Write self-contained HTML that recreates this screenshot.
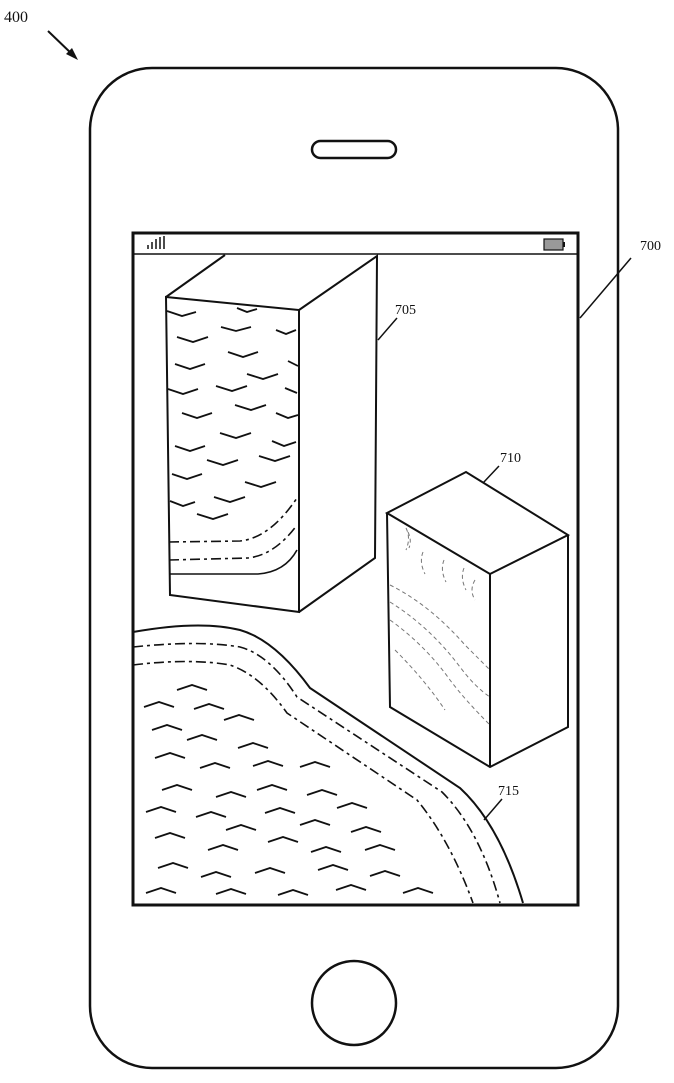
<!DOCTYPE html>
<html><head><style>html,body{margin:0;padding:0;background:#fff}svg{display:block}</style></head>
<body>
<svg width="674" height="1083" viewBox="0 0 674 1083" xmlns="http://www.w3.org/2000/svg" fill="none" stroke="#111" stroke-width="2">
<text x="4" y="22" font-family="Liberation Serif, serif" font-size="16" fill="#111" stroke="none">400</text>
<line x1="48" y1="31" x2="74" y2="56" stroke-width="2"/>
<polygon points="78,60 66,54 72,48" fill="#111" stroke="none"/>
<rect x="90" y="68" width="528" height="1000" rx="62" stroke-width="2.5"/>
<rect x="312" y="141" width="84" height="17" rx="8.5" stroke-width="2.5"/>
<circle cx="354" cy="1003" r="42" stroke-width="2.5"/>
<rect x="133" y="233" width="445" height="672" stroke-width="3"/>
<line x1="133" y1="254" x2="578" y2="254" stroke-width="1.5"/>
<g stroke-width="1.5"><line x1="148" y1="249" x2="148" y2="245"/><line x1="152" y1="249" x2="152" y2="242"/><line x1="156" y1="249" x2="156" y2="239"/><line x1="160" y1="249" x2="160" y2="237"/><line x1="164" y1="249" x2="164" y2="236"/></g>
<rect x="544" y="239" width="19" height="11" fill="#999" stroke-width="1.2"/><rect x="563" y="242" width="2" height="5" fill="#111" stroke="none"/>
<text x="640" y="250" font-family="Liberation Serif, serif" font-size="14" fill="#111" stroke="none">700</text>
<line x1="580" y1="318" x2="631" y2="258" stroke-width="1.5"/>
<!-- box 705 -->
<g stroke-width="2">
<polygon points="166,297 299,310 299,612 170,595"/>
<polyline points="166,297 225,255"/>
<polyline points="299,310 377,256 375,558 299,612"/>
</g>
<text x="395" y="314" font-family="Liberation Serif, serif" font-size="14" fill="#111" stroke="none">705</text>
<line x1="378" y1="340" x2="397" y2="318" stroke-width="1.5"/>
<path d="M169,542 L240,541 Q270,538 297,498" stroke-width="1.6" stroke-dasharray="10,4,3,4"/>
<path d="M169,560 L248,558 Q275,555 297,525" stroke-width="1.6" stroke-dasharray="10,4,3,4"/>
<path d="M169,574 L258,574 Q285,572 297,550" stroke-width="1.6"/>
<g stroke-width="1.8">
<path d="M167,311 l15,5 l14,-4"/><path d="M237,308 l10,4 l10,-3"/>
<path d="M221,327 l15,4 l15,-4"/><path d="M276,330 l10,4 l10,-4"/>
<path d="M177,337 l16,5 l15,-5"/><path d="M228,352 l15,5 l15,-5"/><path d="M288,361 l10,5"/>
<path d="M175,364 l15,5 l15,-5"/><path d="M247,374 l16,5 l15,-5"/>
<path d="M168,389 l15,5 l15,-5"/><path d="M216,386 l16,5 l15,-5"/><path d="M285,388 l12,5"/>
<path d="M182,413 l15,5 l15,-5"/><path d="M235,405 l16,5 l15,-5"/><path d="M276,413 l12,5 l10,-3"/>
<path d="M220,433 l16,5 l15,-5"/><path d="M272,441 l12,5 l12,-4"/>
<path d="M175,446 l15,5 l15,-5"/><path d="M207,460 l16,5 l15,-5"/><path d="M259,456 l16,5 l15,-5"/>
<path d="M172,474 l15,5 l15,-5"/><path d="M245,482 l16,5 l15,-5"/>
<path d="M170,501 l13,5 l12,-4"/><path d="M214,497 l16,5 l15,-5"/>
<path d="M197,514 l16,5 l15,-5"/>
</g>
<!-- box 710 -->
<g stroke-width="2">
<polygon points="387,513 466,472 568,535 490,574"/>
<polyline points="387,513 390,707 490,767 568,727 568,535"/>
<line x1="490" y1="574" x2="490" y2="767"/>
</g>
<text x="500" y="462" font-family="Liberation Serif, serif" font-size="14" fill="#111" stroke="none">710</text>
<line x1="483" y1="483" x2="499" y2="466" stroke-width="1.5"/>
<g stroke="#777" stroke-width="1" stroke-dasharray="4,3">
<path d="M406,528 q5,10 0,22"/><path d="M408,532 q4,8 1,16"/><path d="M423,552 q-4,10 2,22"/><path d="M444,560 q-4,10 2,22"/><path d="M464,568 q-4,10 2,22"/>
<path d="M390,585 q40,20 75,60 q15,15 25,25"/><path d="M390,602 q40,25 70,65 q15,20 30,30"/>
<path d="M390,620 q35,25 60,60 q15,20 40,45"/><path d="M395,650 q30,30 50,60"/><path d="M475,580 q-6,10 0,20"/>
</g>
<!-- 715 -->
<path d="M133,632 Q200,620 240,630 Q275,640 310,688 L460,788 Q500,825 523,903" stroke-width="2"/>
<path d="M133,647 Q200,640 240,647 Q270,655 297,697 L442,792 Q480,830 500,903" stroke-width="1.6" stroke-dasharray="10,4,3,4"/>
<path d="M133,665 Q190,658 230,665 Q260,675 287,713 L417,800 Q450,840 473,903" stroke-width="1.6" stroke-dasharray="10,4,3,4"/>
<text x="498" y="795" font-family="Liberation Serif, serif" font-size="14" fill="#111" stroke="none">715</text>
<line x1="484" y1="820" x2="502" y2="799" stroke-width="1.5"/>
<g stroke-width="1.8">
<path d="M177,690 l15,-5 l15,5"/><path d="M144,707 l15,-5 l15,5"/><path d="M194,709 l15,-5 l15,5"/><path d="M224,720 l15,-5 l15,5"/>
<path d="M152,730 l15,-5 l15,5"/><path d="M187,740 l15,-5 l15,5"/><path d="M238,748 l15,-5 l15,5"/>
<path d="M155,758 l15,-5 l15,5"/><path d="M200,768 l15,-5 l15,5"/><path d="M253,766 l15,-5 l15,5"/><path d="M300,767 l15,-5 l15,5"/>
<path d="M162,790 l15,-5 l15,5"/><path d="M216,797 l15,-5 l15,5"/><path d="M257,790 l15,-5 l15,5"/><path d="M307,795 l15,-5 l15,5"/><path d="M337,808 l15,-5 l15,5"/>
<path d="M146,812 l15,-5 l15,5"/><path d="M196,817 l15,-5 l15,5"/><path d="M265,813 l15,-5 l15,5"/>
<path d="M226,830 l15,-5 l15,5"/><path d="M300,825 l15,-5 l15,5"/><path d="M351,832 l15,-5 l15,5"/>
<path d="M155,838 l15,-5 l15,5"/><path d="M208,850 l15,-5 l15,5"/><path d="M268,842 l15,-5 l15,5"/><path d="M311,852 l15,-5 l15,5"/><path d="M365,850 l15,-5 l15,5"/>
<path d="M158,868 l15,-5 l15,5"/><path d="M201,877 l15,-5 l15,5"/><path d="M255,873 l15,-5 l15,5"/><path d="M318,870 l15,-5 l15,5"/><path d="M370,876 l15,-5 l15,5"/>
<path d="M146,893 l15,-5 l15,5"/><path d="M216,894 l15,-5 l15,5"/><path d="M278,895 l15,-5 l15,5"/><path d="M336,890 l15,-5 l15,5"/><path d="M403,893 l15,-5 l15,5"/>
</g>
</svg>
</body></html>
